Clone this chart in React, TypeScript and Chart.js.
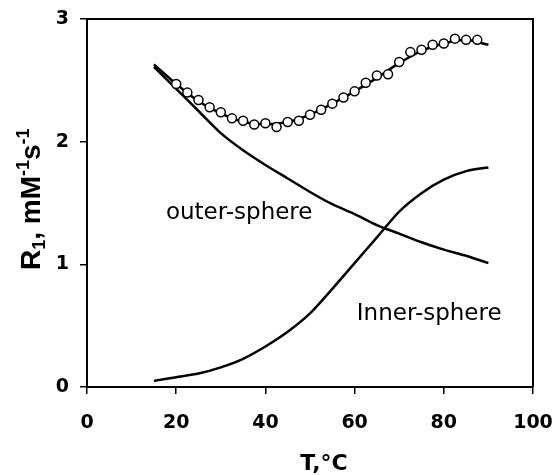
import React, { useEffect, useRef } from "react";
import { Chart, registerables } from "chart.js";

Chart.register(...registerables);

// Curve temperatures (°C)
const curveT = [15, 20, 25, 30, 35, 40, 45, 50, 55, 60, 65, 70, 75, 80, 85, 90];
// Total fitted relaxivity
const totalFit = [2.63, 2.47, 2.33, 2.23, 2.16, 2.14, 2.16, 2.22, 2.31, 2.41, 2.52, 2.64, 2.74, 2.8, 2.83, 2.79];
// Outer-sphere contribution
const outerSphere = [2.61, 2.43, 2.25, 2.07, 1.93, 1.81, 1.7, 1.59, 1.49, 1.41, 1.32, 1.25, 1.18, 1.12, 1.07, 1.01];
// Inner-sphere contribution
const innerSphere = [0.05, 0.08, 0.11, 0.16, 0.23, 0.33, 0.45, 0.6, 0.8, 1.01, 1.22, 1.43, 1.58, 1.69, 1.76, 1.79];

// Measured points
const measT = [20, 22.5, 25, 27.5, 30, 32.5, 35, 37.5, 40, 42.5, 45, 47.5, 50, 52.5, 55, 57.5, 60, 62.5, 65, 67.5, 70, 72.5, 75, 77.5, 80, 82.5, 85, 87.5];
const measR = [2.47, 2.4, 2.34, 2.28, 2.24, 2.19, 2.17, 2.14, 2.15, 2.12, 2.16, 2.17, 2.22, 2.26, 2.31, 2.36, 2.41, 2.48, 2.54, 2.55, 2.65, 2.73, 2.75, 2.79, 2.8, 2.84, 2.83, 2.83];

const xTicks = [0, 20, 40, 60, 80, 100];
const yTicks = [0, 1, 2, 3];

const xTitle = "T,°C";
const outerLabel = { text: "outer-sphere", x: 17.7, y: 1.37 };
const innerLabel = { text: "Inner-sphere", x: 60.5, y: 0.55 };

const toXY = (xs: number[], ys: number[]) => xs.map((x, i) => ({ x, y: ys[i] }));

const decor = {
  id: "decor",
  afterDraw(chart: any) {
    const { ctx, chartArea, scales } = chart;
    const { left, right, top, bottom } = chartArea;
    ctx.save();
    ctx.strokeStyle = "#000";
    ctx.lineWidth = 2;
    ctx.beginPath();
    ctx.moveTo(left, top);
    ctx.lineTo(right, top);
    ctx.lineTo(right, bottom);
    ctx.stroke();

    ctx.fillStyle = "#000";
    ctx.textAlign = "left";
    ctx.textBaseline = "alphabetic";
    ctx.font = '23px "DejaVu Sans"';
    for (const l of [outerLabel, innerLabel]) {
      ctx.fillText(l.text, scales.x.getPixelForValue(l.x), scales.y.getPixelForValue(l.y));
    }

    // x title
    ctx.font = 'bold 22px "DejaVu Sans"';
    ctx.textAlign = "center";
    ctx.fillText(xTitle, 324, 470);

    // y title (rotated)
    const parts = [
      { t: "R", sz: 28, dy: 0 },
      { t: "1", sz: 18, dy: 5 },
      { t: ", mM", sz: 28, dy: 0 },
      { t: "-1", sz: 18, dy: -11 },
      { t: "s", sz: 28, dy: 0 },
      { t: "-1", sz: 18, dy: -11 },
    ];
    ctx.translate(40, 270);
    ctx.rotate(-Math.PI / 2);
    ctx.textAlign = "left";
    let u = 0;
    for (const p of parts) {
      ctx.font = `bold ${p.sz}px "Liberation Sans"`;
      ctx.fillText(p.t, u, p.dy);
      u += ctx.measureText(p.t).width;
    }
    ctx.restore();
  },
};

export default function App() {
  const ref = useRef<HTMLCanvasElement>(null);
  useEffect(() => {
    if (!ref.current) return;
    const lineDs = (data: number[]) => ({
      data: toXY(curveT, data),
      showLine: true,
      borderColor: "#000",
      borderWidth: 2.5,
      pointRadius: 0,
      tension: 0.25,
      fill: false,
      order: 2,
    });
    const chart = new Chart(ref.current, {
      type: "scatter",
      data: {
        datasets: [
          {
            data: toXY(measT, measR),
            showLine: false,
            pointRadius: 4.5,
            pointBorderWidth: 1.5,
            pointBorderColor: "#000",
            pointBackgroundColor: "#fff",
            order: 0,
          } as any,
          lineDs(totalFit),
          lineDs(outerSphere),
          lineDs(innerSphere),
        ],
      },
      options: {
        animation: false,
        responsive: false,
        devicePixelRatio: 1,
        layout: { padding: { top: 19, right: 19, left: 0, bottom: 0 } },
        plugins: { legend: { display: false }, tooltip: { enabled: false } },
        scales: {
          x: {
            type: "linear",
            min: 0,
            max: 100,
            afterFit: (s: any) => { s.height = 88; s.paddingLeft = 0; s.paddingRight = 0; },
            afterBuildTicks: (s: any) => { s.ticks = xTicks.map((v) => ({ value: v })); },
            grid: { drawOnChartArea: false, drawTicks: true, tickLength: 7, color: "#000", lineWidth: 1.5 },
            border: { display: true, color: "#000", width: 2 },
            ticks: { color: "#000", padding: 18, font: { family: "DejaVu Sans", weight: "bold", size: 19 } },
          },
          y: {
            type: "linear",
            min: 0,
            max: 3,
            afterFit: (s: any) => { s.width = 87; s.paddingTop = 0; s.paddingBottom = 0; },
            afterBuildTicks: (s: any) => { s.ticks = yTicks.map((v) => ({ value: v })); },
            grid: { drawOnChartArea: false, drawTicks: true, tickLength: 7, color: "#000", lineWidth: 1.5 },
            border: { display: true, color: "#000", width: 2 },
            ticks: { color: "#000", padding: 11, font: { family: "DejaVu Sans", weight: "bold", size: 19 } },
          },
        },
      } as any,
      plugins: [decor],
    });
    return () => chart.destroy();
  }, []);
  return (
    <div style={{ position: "absolute", left: 0, top: 0, width: 552, height: 475, background: "#fff" }}>
      <canvas ref={ref} width={552} height={475} style={{ width: 552, height: 475 }} />
    </div>
  );
}
